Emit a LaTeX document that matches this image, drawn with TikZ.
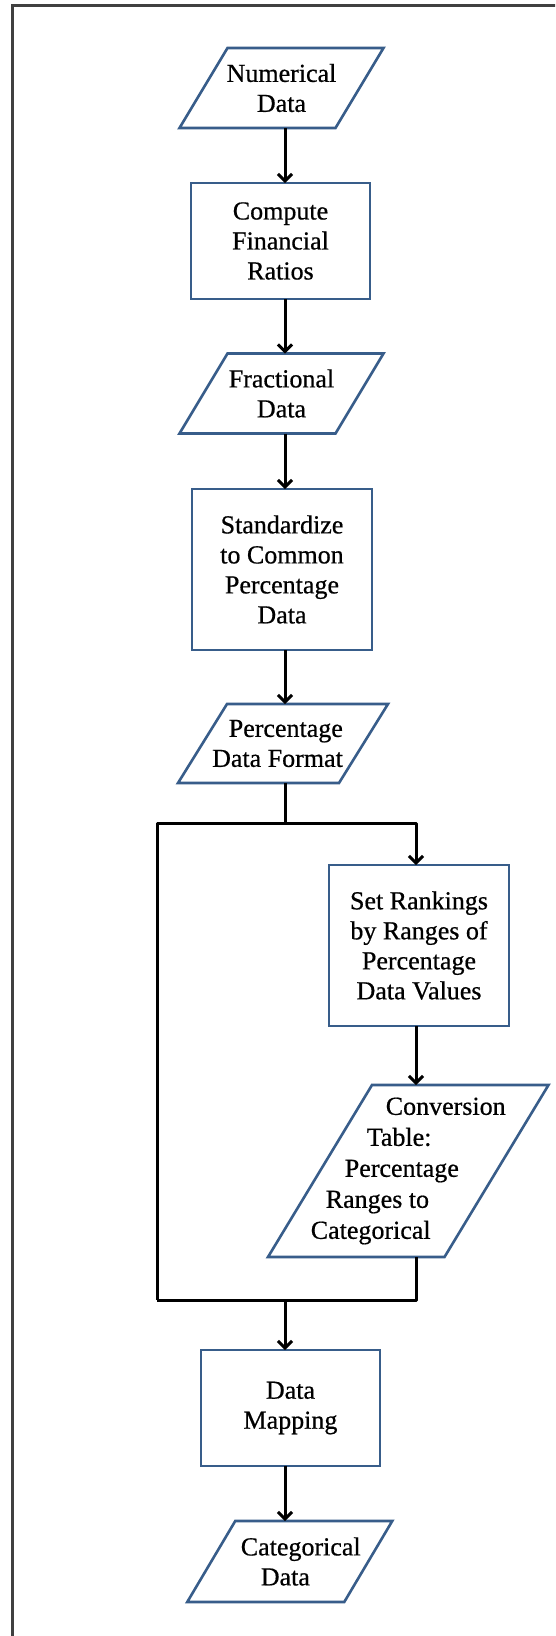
\documentclass[tikz,border=0pt]{standalone}
\usepackage{fontspec}
\setmainfont{Liberation Serif}[FakeBold=0.6]
\usetikzlibrary{arrows.meta,calc}
\definecolor{boxblue}{RGB}{56,93,138}
\definecolor{framegray}{RGB}{64,64,64}
\newcommand{\ioshape}[4]{%
  \draw[iobox] ($(#1.center)+({-(#2)/2+(#4)/2},{-(#3)/2})$)
    -- ($(#1.center)+({(#2)/2+(#4)/2},{-(#3)/2})$)
    -- ($(#1.center)+({(#2)/2-(#4)/2},{(#3)/2})$)
    -- ($(#1.center)+({-(#2)/2-(#4)/2},{(#3)/2})$) -- cycle;}
\tikzset{
  txt/.style={font=\fontsize{26}{30}\selectfont},
  iotext/.style={txt, align=center, inner sep=0pt, outer sep=0pt},
  iobox/.style={draw=boxblue, line width=2.6pt, line join=miter},
  procbox/.style={txt, draw=boxblue, line width=2.6pt, fill=white, align=center, inner sep=0pt, outer sep=0pt},
  conn/.style={black, line width=3pt, line join=round},
  arr/.style={conn, -{Straight Barb[length=7pt,width=14pt]}},
  framestyle/.style={framegray, line width=2.8pt}
}
\begin{document}
\begin{tikzpicture}[x=1pt, y=-1pt]
\useasboundingbox (0,0) rectangle (555,1636);
\fill[white] (0,0) rectangle (555,1636);
\clip (0,0) rectangle (555,1636);
\draw[framestyle] (12.7,1670) -- (12.7,5.5) -- (580,5.5);

% coordinates for connectors
\coordinate (ax) at (285,0);
\coordinate (jl) at (157,823);
\coordinate (jr) at (416,823);
\coordinate (bl) at (157,1300);
\coordinate (br) at (416,1300);

% nodes
\node[iotext, minimum height=80pt] (num) at (281.5,88) {Numerical\\Data};
\ioshape{num}{156}{80}{48}

\node[procbox, minimum width=179pt, minimum height=116pt] (comp) at (280.5,241) {Compute\\Financial\\Ratios};

\node[iotext, minimum height=80pt] (frac) at (281.5,393.5) {Fractional\\Data};
\ioshape{frac}{156}{80}{48}

\node[procbox, minimum width=180pt, minimum height=161pt] (std) at (282,569.5) {Standardize\\to Common\\Percentage\\Data};

\node[iotext, align=right, minimum height=79pt] (pct) at (283,743.5) {Percentage\hspace*{11pt}\\Data Format\hspace*{11pt}};
\ioshape{pct}{161}{79}{49}

\node[procbox, minimum width=180pt, minimum height=161pt] (rank) at (419,945.5) {Set Rankings\\by Ranges of\\Percentage\\Data Values};

\node[iotext, align=left, font=\fontsize{26}{31}\selectfont, minimum height=172pt] (conv) at (408.25,1171)
  {\hspace*{75pt}Conversion\\\hspace*{56pt}Table:\\\hspace*{34pt}Percentage\\\hspace*{15pt}Ranges to\\Categorical};
\ioshape{conv}{176.5}{172}{104}

\node[procbox, minimum width=179pt, minimum height=116pt] (map) at (290.5,1408) {Data\\Mapping};

\node[iotext, align=left, minimum height=81pt] (cat) at (289.75,1561.5) {\hspace*{22pt}Categorical\\\hspace*{42pt}Data};
\ioshape{cat}{157}{81}{48}

% connectors
\draw[arr] (num.south -| ax) -- (comp.north -| ax);
\draw[arr] (comp.south -| ax) -- (frac.north -| ax);
\draw[arr] (frac.south -| ax) -- (std.north -| ax);
\draw[arr] (std.south -| ax) -- (pct.north -| ax);
\draw[conn] (pct.south -| ax) -- (ax |- jl);
\draw[arr] (bl) -- (jl) -- (jr) -- (rank.north -| jr);
\draw[arr] (rank.south -| jr) -- (conv.north -| jr);
\draw[conn] (conv.south -| br) -- (br) -- (bl);
\draw[arr] (ax |- bl) -- (map.north -| ax);
\draw[arr] (map.south -| ax) -- (cat.north -| ax);
\end{tikzpicture}
\end{document}
